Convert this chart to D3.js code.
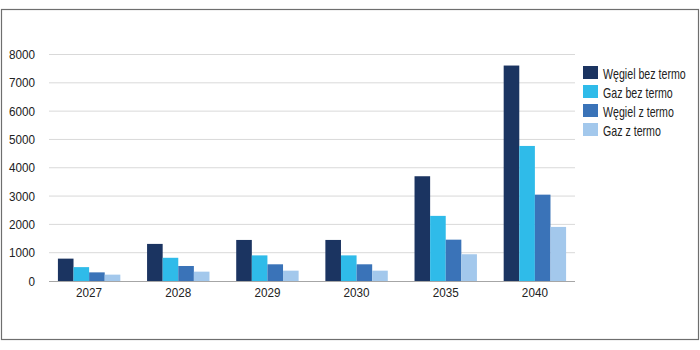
<!DOCTYPE html>
<html><head><meta charset="utf-8">
<script src="https://cdn.jsdelivr.net/npm/d3@7"></script>
<style>body{margin:0;background:#fff}svg{display:block}text{font-family:"Liberation Sans","Arial",sans-serif;fill:#222}</style>
</head><body><svg id="c" width="700" height="350"></svg>
<script>
const categories = ["2027","2028","2029","2030","2035","2040"];
const seriesNames = ["Węgiel bez termo","Gaz bez termo","Węgiel z termo","Gaz z termo"];
const wegielBez = [790,1310,1450,1450,3700,7610];
const gazBez = [490,820,905,905,2300,4770];
const wegielZ = [305,530,590,590,1460,3050];
const gazZ = [225,330,365,365,945,1910];
const yTicks = [0,1000,2000,3000,4000,5000,6000,7000,8000];
const colors = ["#1b3461","#2fbbe9","#3a73b8","#a3c8ec"];
const series = [wegielBez,gazBez,wegielZ,gazZ];

const svg = d3.select("#c");
svg.append("rect").attr("x",1.5).attr("y",9.5).attr("width",697).attr("height",330)
  .attr("fill","none").attr("stroke","#6e6e6e").attr("stroke-width",1.2);

const y = d3.scaleLinear().domain([0,8000]).range([281,54.5]);
const x0 = d3.scaleBand().domain(categories).range([49,575]).paddingInner(0.3).paddingOuter(0.1);
const x1 = d3.scaleBand().domain(d3.range(4)).range([0,x0.bandwidth()]);

// gridlines
svg.append("g").selectAll("line").data(yTicks.filter(d=>d>0)).join("line")
  .attr("x1",49).attr("x2",575).attr("y1",d=>y(d)).attr("y2",d=>y(d))
  .attr("stroke","#d9d9d9").attr("stroke-width",1);

// y axis labels (condensed via horizontal scale)
const gy = svg.append("g");
gy.selectAll("text").data(yTicks).join("text")
  .attr("transform",d=>`translate(35,${y(d)}) scale(0.9,1)`)
  .attr("text-anchor","end").attr("dy","0.35em").attr("font-size",13)
  .text(d3.format("d"));

// bars
const g = svg.append("g");
categories.forEach((c,i)=>{
  series.forEach((s,j)=>{
    g.append("rect").attr("x",x0(c)+x1(j)).attr("y",y(s[i]))
      .attr("width",x1.bandwidth()).attr("height",y(0)-y(s[i])).attr("fill",colors[j]);
  });
});

// x axis
svg.append("line").attr("x1",49).attr("x2",575).attr("y1",281.5).attr("y2",281.5)
  .attr("stroke","#a6a6a6").attr("stroke-width",1);
svg.append("g").selectAll("text").data(categories).join("text")
  .attr("transform",d=>`translate(${x0(d)+x0.bandwidth()/2},297) scale(0.9,1)`)
  .attr("text-anchor","middle").attr("font-size",13).text(d=>d);

// legend
const lg = svg.append("g").attr("transform","translate(583,66)");
seriesNames.forEach((n,j)=>{
  lg.append("rect").attr("x",0).attr("y",j*19).attr("width",15).attr("height",13).attr("fill",colors[j]);
  lg.append("text").attr("transform",`translate(20,${j*19+12.5}) scale(0.76,1)`)
    .attr("font-size",14).text(n);
});
</script></body></html>
